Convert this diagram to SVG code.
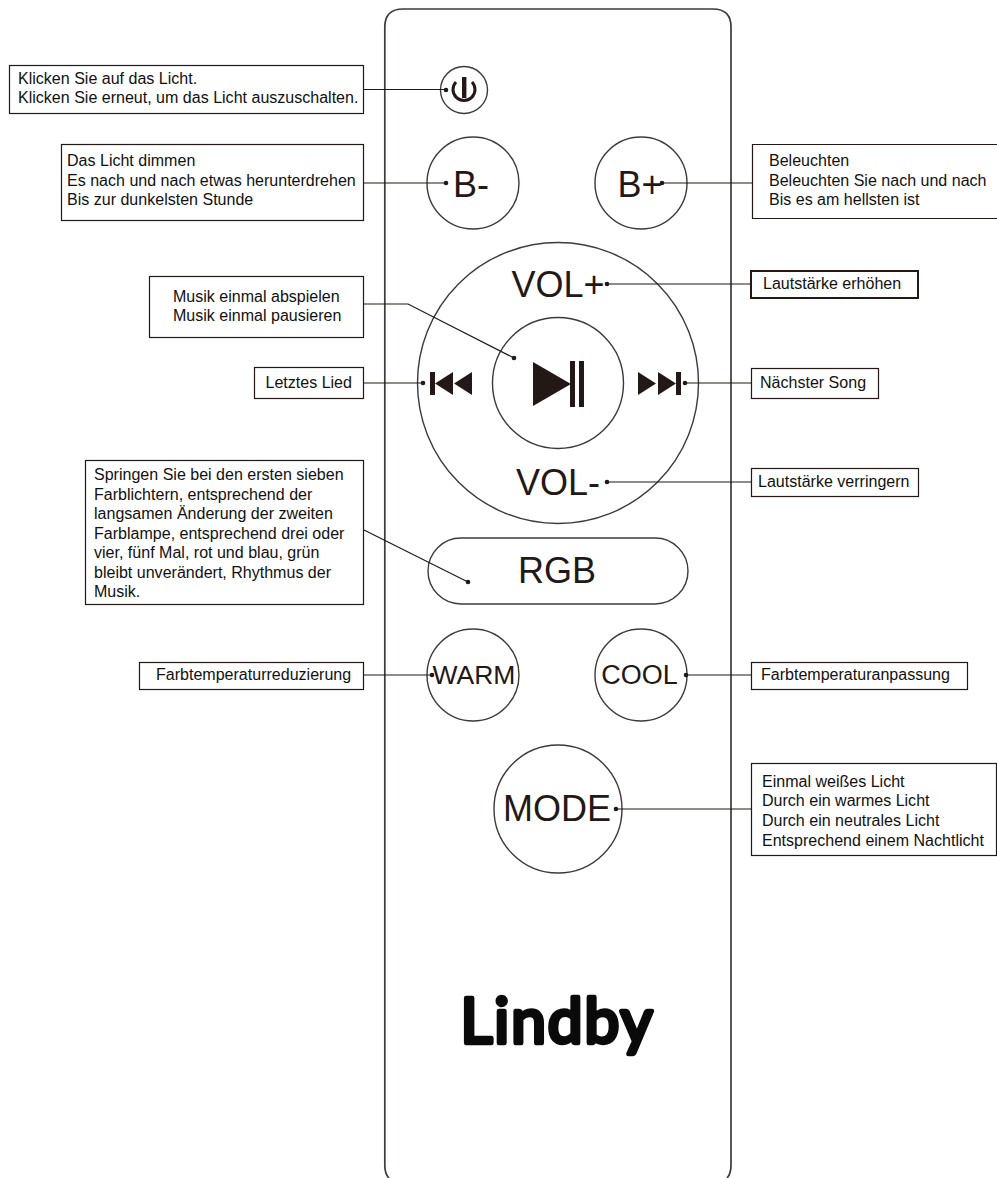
<svg xmlns="http://www.w3.org/2000/svg" width="997" height="1178" viewBox="0 0 997 1178">
<style>
.b{fill:none;stroke:#3e3a39;stroke-width:1.4}
.box{fill:#fff;stroke:#231815;stroke-width:1.2}
.l{fill:none;stroke:#231815;stroke-width:1.2}
.d{fill:#231815}
.t{font-family:"Liberation Sans",Arial,sans-serif;font-size:16.05px;fill:#111}
.k{font-family:"Liberation Sans",Arial,sans-serif;fill:#231815;text-anchor:middle}
.i{fill:#231815}
</style>
<rect width="997" height="1178" fill="#fff"/>
<g id="remote"><path class="b" style="stroke-width:1.7" d="M384.800 1165V27Q384.800 9 403 9H713Q731 9 731 27V1165Q731 1174 727 1178M384.800 1165Q384.800 1174 389 1178"/></g>
<g id="btn-power"><circle class="b" cx="464" cy="90" r="23.500"/><path d="M456 82A11 11 0 1 0 472 82" fill="none" stroke="#231815" stroke-width="3"/><rect class="i" x="462" y="77" width="4.400" height="21"/></g>
<g id="btn-bminus"><circle class="b" cx="473" cy="183" r="46"/><text class="k" x="471" y="197" font-size="36">B-</text></g>
<g id="btn-bplus"><circle class="b" cx="641" cy="183" r="46"/><text class="k" x="640" y="197" font-size="36">B+</text></g>
<g id="ring"><circle class="b" cx="558" cy="383" r="140.500"/></g>
<g id="btn-volplus"><text class="k" x="558" y="297" font-size="36">VOL+</text></g>
<g id="btn-volminus"><text class="k" x="558" y="495" font-size="36">VOL-</text></g>
<g id="btn-play"><circle class="b" cx="558" cy="383" r="65.500"/><polygon class="i" points="533,362 571,384 533,406"/><rect class="i" x="570" y="361" width="5" height="46"/><rect class="i" x="579" y="361" width="5" height="46"/></g>
<g id="btn-prev"><rect class="i" x="430" y="372" width="5" height="23"/><polygon class="i" points="453,372 435,383.500 453,395"/><polygon class="i" points="472,372 454,383.500 472,395"/></g>
<g id="btn-next"><rect class="i" x="676" y="372" width="5" height="23"/><polygon class="i" points="658,372 676,383.500 658,395"/><polygon class="i" points="638,372 656,383.500 638,395"/></g>
<g id="btn-rgb"><rect class="b" x="428" y="538" width="260" height="66" rx="33"/><text class="k" x="557" y="583" font-size="36">RGB</text></g>
<g id="btn-warm"><circle class="b" cx="473" cy="675" r="46"/><text class="k" x="474" y="684" font-size="26.500">WARM</text></g>
<g id="btn-cool"><circle class="b" cx="641" cy="675" r="46"/><text class="k" x="639.500" y="684" font-size="27">COOL</text></g>
<g id="btn-mode"><circle class="b" cx="558" cy="809" r="64"/><text class="k" x="557" y="821" font-size="36">MODE</text></g>
<g id="logo"><text x="557.500" y="1043" text-anchor="middle" font-family="Lato,sans-serif" font-weight="400" font-size="62" letter-spacing="2" fill="#0a0a0a" stroke="#0a0a0a" stroke-width="4.500" stroke-linejoin="round">Lindby</text></g>
<g id="connectors">
<path class="l" d="M364 89.500H446M364 183H446M660 183H752M364 304H408L514 358M607 284H751M364 383H423M684 383H751M607 482H751M364 530L468 582M364 675H432M686 675H751M616 809H751"/>
<circle class="d" cx="446" cy="90" r="2.300"/><circle class="d" cx="446" cy="183" r="2.300"/><circle class="d" cx="662" cy="183" r="2.300"/><circle class="d" cx="607" cy="284" r="2.300"/><circle class="d" cx="514" cy="358" r="2.300"/><circle class="d" cx="423" cy="383" r="2.300"/><circle class="d" cx="685" cy="383" r="2.300"/><circle class="d" cx="607" cy="482" r="2.300"/><circle class="d" cx="468" cy="582" r="2.300"/><circle class="d" cx="432" cy="675" r="2.300"/><circle class="d" cx="686" cy="675" r="2.300"/><circle class="d" cx="616" cy="809" r="2.300"/>
</g>
<g id="note-power"><rect class="box" x="9.500" y="65.500" width="354" height="48"/><text class="t"><tspan x="18" y="84">Klicken Sie auf das Licht.</tspan><tspan x="18" y="103">Klicken Sie erneut, um das Licht auszuschalten.</tspan></text></g>
<g id="note-dim"><rect class="box" x="61.500" y="144.500" width="302" height="76"/><text class="t"><tspan x="67" y="166">Das Licht dimmen</tspan><tspan x="67" y="186">Es nach und nach etwas herunterdrehen</tspan><tspan x="67" y="205">Bis zur dunkelsten Stunde</tspan></text></g>
<g id="note-bright"><path class="box" d="M997 144.500H752.500V218.500H997"/><text class="t"><tspan x="769" y="166">Beleuchten</tspan><tspan x="769" y="186">Beleuchten Sie nach und nach</tspan><tspan x="769" y="205">Bis es am hellsten ist</tspan></text></g>
<g id="note-play"><rect class="box" x="149.500" y="276.500" width="214" height="61"/><text class="t"><tspan x="173" y="302">Musik einmal abspielen</tspan><tspan x="173" y="321">Musik einmal pausieren</tspan></text></g>
<g id="note-volup"><rect x="751" y="271" width="167" height="27" fill="#fff" stroke="#231815" stroke-width="2"/><text class="t" x="763" y="289">Lautstärke erhöhen</text></g>
<g id="note-prev"><rect class="box" x="254.500" y="367.500" width="109" height="31"/><text class="t" x="265.500" y="388">Letztes Lied</text></g>
<g id="note-next"><rect class="box" x="751.500" y="368.500" width="127" height="30"/><text class="t" x="760" y="388">Nächster Song</text></g>
<g id="note-voldown"><rect class="box" x="751.500" y="468.500" width="167" height="28"/><text class="t" x="758" y="487">Lautstärke verringern</text></g>
<g id="note-rgb"><rect class="box" x="85.500" y="460.500" width="278" height="144"/><text class="t"><tspan x="94" y="480">Springen Sie bei den ersten sieben</tspan><tspan x="94" y="500">Farblichtern, entsprechend der</tspan><tspan x="94" y="519">langsamen Änderung der zweiten</tspan><tspan x="94" y="539">Farblampe, entsprechend drei oder</tspan><tspan x="94" y="558">vier, fünf Mal, rot und blau, grün</tspan><tspan x="94" y="578">bleibt unverändert, Rhythmus der</tspan><tspan x="94" y="597">Musik.</tspan></text></g>
<g id="note-warm"><rect class="box" x="139.500" y="662.500" width="224" height="27"/><text class="t" x="156" y="680">Farbtemperaturreduzierung</text></g>
<g id="note-cool"><rect class="box" x="751.500" y="662.500" width="216" height="27"/><text class="t" x="761" y="680">Farbtemperaturanpassung</text></g>
<g id="note-mode"><rect class="box" x="751.500" y="763.500" width="245" height="92"/><text class="t"><tspan x="762" y="787">Einmal weißes Licht</tspan><tspan x="762" y="806">Durch ein warmes Licht</tspan><tspan x="762" y="826">Durch ein neutrales Licht</tspan><tspan x="762" y="846">Entsprechend einem Nachtlicht</tspan></text></g>
</svg>
